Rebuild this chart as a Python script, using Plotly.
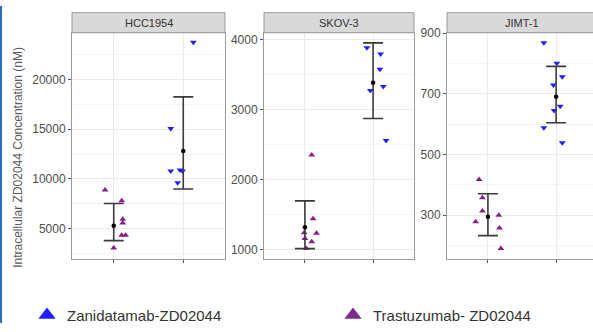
import plotly.graph_objects as go

# ---------------- data ----------------
panels = ["HCC1954", "SKOV-3", "JIMT-1"]
legend_names = ["Zanidatamab-ZD02044", "Trastuzumab- ZD02044"]

# Trastuzumab-ZD02044 (category 1), purple up-triangles
tras_vals = [
    [8875, 7800, 5930, 5550, 4330, 4330, 3050],
    [2351, 1441, 1241, 1232, 1160, 1113, 1014],
    [417, 357, 313, 299, 278, 257, 190],
]
tras_jitter = [
    [-0.125, 0.115, 0.13, 0.13, 0.115, 0.17, 0.0],
    [0.10, 0.12, -0.01, 0.17, 0.0, 0.10, 0.02],
    [-0.13, -0.08, -0.08, 0.16, -0.18, 0.17, 0.19],
]
# Zanidatamab-ZD02044 (category 2), blue down-triangles
zan_vals = [
    [23743, 15067, 10797, 10893, 10797, 9616],
    [3887, 3795, 3577, 3332, 3273, 2559],
    [868, 800, 756, 729, 659, 645, 588, 538],
]
zan_jitter = [
    [0.145, -0.18, -0.18, -0.046, -0.01, -0.08],
    [-0.09, 0.11, 0.10, 0.15, -0.04, 0.19],
    [-0.18, 0.01, 0.09, -0.04, 0.06, -0.03, -0.18, 0.09],
]
# means and interval bounds  [trastuzumab, zanidatamab]
means = [[5288, 12802], [1318, 3386], [294, 690]]
upper = [[7524, 18244], [1696, 3955], [370, 790]]
lower = [[3781, 8976], [1014, 2873], [232, 604]]

# axis settings
y_ranges = [[1935, 24700], [865, 4100], [155, 901]]
y_tick0 = [0, 0, 100]
y_dtick = [5000, 1000, 200]
y_minor = [2500, 500, 100]

# ---------------- layout helpers ----------------
W, H = 593, 332
def px(x):
    return x / W
def py(y):
    return 1 - y / H

x_dom = [(72, 225), (264, 414), (447, 593)]
x_ranges = [[0.4, 2.6], [0.4, 2.6], [0.4, 0.4 + 146 / 68.2]]
plot_top, plot_bot = 28, 265
strip_top = 7

BLUE = "#1f1fff"
PURPLE = "#8b1c8b"
LEG_PURPLE = "#7b2d88"

fig = go.Figure()

for i in range(3):
    xa = "x" if i == 0 else f"x{i+1}"
    ya = "y" if i == 0 else f"y{i+1}"
    fig.add_trace(go.Scatter(
        x=[1 + j for j in tras_jitter[i]], y=tras_vals[i], xaxis=xa, yaxis=ya,
        mode="markers", showlegend=False,
        marker=dict(symbol="triangle-up", size=6, color=PURPLE),
    ))
    fig.add_trace(go.Scatter(
        x=[2 + j for j in zan_jitter[i]], y=zan_vals[i], xaxis=xa, yaxis=ya,
        mode="markers", showlegend=False,
        marker=dict(symbol="triangle-down", size=6, color=BLUE),
    ))
    fig.add_trace(go.Scatter(
        x=[1, 2], y=means[i], xaxis=xa, yaxis=ya,
        mode="markers", showlegend=False,
        marker=dict(symbol="circle", size=4.5, color="black"),
        error_y=dict(type="data", symmetric=False,
                     array=[u - m for u, m in zip(upper[i], means[i])],
                     arrayminus=[m - l for l, m in zip(lower[i], means[i])],
                     color="#3a3a3a", thickness=1.6, width=10),
    ))

# legend-only entries
fig.add_trace(go.Scatter(x=[None], y=[None], mode="markers", name=legend_names[0],
                         legend="legend",
                         marker=dict(symbol="triangle-up", size=15, color=BLUE)))
fig.add_trace(go.Scatter(x=[None], y=[None], mode="markers", name=legend_names[1],
                         legend="legend2",
                         marker=dict(symbol="triangle-up", size=15, color=LEG_PURPLE)))

leg_common = dict(orientation="h", xanchor="left", y=py(324), yanchor="middle",
                  font=dict(size=15, color="#333333"), bgcolor="rgba(0,0,0,0)",
                  itemclick=False, itemdoubleclick=False)

layout = dict(
    width=W, height=H, autosize=False,
    margin=dict(l=0, r=0, t=0, b=0),
    paper_bgcolor="white", plot_bgcolor="white",
    font=dict(family="Liberation Sans, Arial, sans-serif", color="#4d4d4d"),
    showlegend=True,
    legend=dict(x=px(27), **leg_common),
    legend2=dict(x=px(333), **leg_common),
)

shapes = []
annotations = []
for i in range(3):
    sx = "" if i == 0 else str(i + 1)
    d0, d1 = x_dom[i]
    layout["xaxis" + sx] = dict(
        domain=[px(d0), px(d1)], range=x_ranges[i], anchor="y" + sx,
        tickvals=[1, 2], ticktext=["", ""], ticks="outside", ticklen=3,
        tickcolor="#555", showgrid=True, gridcolor="#ebebeb", gridwidth=1,
        zeroline=False, showline=True, linecolor="#9a9a9a", linewidth=1,
        mirror=True, fixedrange=True,
    )
    layout["yaxis" + sx] = dict(
        domain=[py(plot_bot), py(plot_top)], range=y_ranges[i], anchor="x" + sx,
        tick0=y_tick0[i], dtick=y_dtick[i], tickformat="d", ticks="outside", ticklen=3,
        tickcolor="#555", tickfont=dict(size=12, color="#4d4d4d"),
        showgrid=True, gridcolor="#ebebeb", gridwidth=1,
        minor=dict(tick0=0, dtick=y_minor[i], showgrid=True, gridcolor="#f4f4f4", gridwidth=1),
        zeroline=False, showline=True, linecolor="#9a9a9a", linewidth=1,
        mirror=(i < 2), fixedrange=True,
    )
    # strip
    shapes.append(dict(type="rect", xref="paper", yref="paper",
                       x0=px(d0), x1=px(d1) if i < 2 else 1.002,
                       y0=py(plot_top), y1=py(strip_top),
                       fillcolor="#d9d9d9", line=dict(color="#9a9a9a", width=1)))
    annotations.append(dict(text=panels[i], xref="paper", yref="paper",
                            x=px((d0 + (d1 if i < 2 else 597)) / 2), y=py((strip_top + plot_top) / 2),
                            xanchor="center", yanchor="middle", showarrow=False,
                            font=dict(size=11, color="#333333")))

# left blue stripe
shapes.append(dict(type="rect", xref="paper", yref="paper", x0=0, x1=px(2), y0=0, y1=1,
                   fillcolor="#2a6ebb", line=dict(width=0)))

annotations.append(dict(text="Intracellular ZD02044 Concentration (nM)", xref="paper", yref="paper",
                        x=px(18), y=py(159), xanchor="center", yanchor="middle",
                        textangle=-90, showarrow=False,
                        font=dict(size=12, color="#5a5a5a")))

layout["shapes"] = shapes
layout["annotations"] = annotations
fig.update_layout(**layout)

fig.write_html("out.html",
               config={"displayModeBar": False, "staticPlot": True},
               post_script="document.body.style.margin='0';document.body.style.overflow='hidden';")
